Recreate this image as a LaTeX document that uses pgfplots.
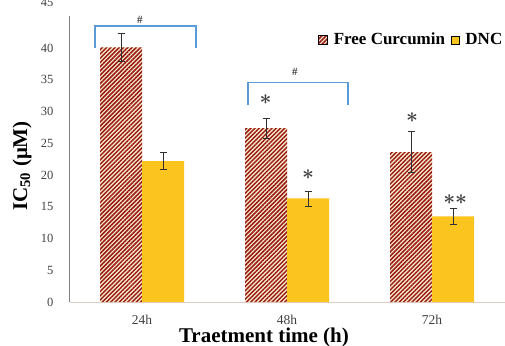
\documentclass[border=0pt]{standalone}
\usepackage{fontspec}
\setmainfont{Liberation Serif}
\usepackage{pgfplots}
\pgfplotsset{compat=1.18}
\usetikzlibrary{patterns.meta}
\definecolor{curred}{HTML}{951B1B}
\definecolor{curbg}{HTML}{FDEBC6}
\definecolor{dncy}{HTML}{FCC21A}
\definecolor{dncdot}{HTML}{FFDB5E}
\definecolor{brk}{HTML}{5B9BD5}
\definecolor{txt}{HTML}{404040}
\definecolor{errc}{HTML}{303030}
\begin{document}
\begin{tikzpicture}
\begin{axis}[
  scale only axis, width=435pt, height=285.75pt,
  xmin=-0.5, xmax=2.5, ymin=0, ymax=45,
  ybar=0pt, bar width=42pt,
  axis lines=left, axis line style={-},
  x axis line style={draw=black!25!brown!30, line width=0.8pt},
  y axis line style={draw=black!50, line width=0.8pt},
  xtick={0,1,2}, xticklabels={24h,48h,72h},
  ytick={0,5,...,40}, extra y ticks={45},
  extra y tick style={yticklabel style={yshift=13.5pt}},
  major tick length=0pt,
  /pgf/number format/assume math mode=true,
  yticklabel style={font=\fontsize{12.5}{14}\selectfont, text=txt, anchor=east, inner sep=0pt, xshift=-16pt},
  xticklabel style={font=\fontsize{13.5}{15}\selectfont, text=txt, anchor=north, inner sep=0pt, yshift=-12.5pt},
  xlabel={Traetment time (h)},
  xlabel style={font=\fontsize{21}{24}\selectfont\bfseries, at={(axis description cs:0.447,-0.143)}, anchor=base},
  ylabel={IC\textsubscript{50} (μM)},
  ylabel style={font=\fontsize{21}{24}\selectfont\bfseries, at={(axis description cs:-0.109,0.476)}, anchor=center},
  clip=false,
  legend style={at={(rel axis cs:1.0,0.918)}, anchor=east, draw=none, fill=none, inner sep=0pt,
    font=\fontsize{17}{20}\selectfont\bfseries, legend columns=2,
    /tikz/every odd column/.append style={column sep=4pt},
    /tikz/every even column/.append style={column sep=4pt}},
  legend cell align=left,
]
% Free Curcumin: cream base, hatched layer
\addplot[fill=curbg, draw=none, bar shift=-21pt, forget plot] coordinates {(0,40.1) (1,27.4) (2,23.6)};
\addplot[draw=none, bar shift=-21pt, forget plot, pattern={Lines[angle=45,distance=3pt,line width=1.5pt]}, pattern color=curred] coordinates {(0,40.1) (1,27.4) (2,23.6)};
% DNC
\addplot[fill=dncy, draw=none, bar shift=21pt, forget plot] coordinates {(0,22.2) (1,16.3) (2,13.5)};
\addplot[draw=none, bar shift=21pt, forget plot, pattern={Dots[distance=2pt,radius=0.45pt]}, pattern color=dncdot] coordinates {(0,22.2) (1,16.3) (2,13.5)};
% error bars
\addplot[draw=none, fill=none, bar shift=-21pt, forget plot,
  error bars/.cd, y dir=both, y explicit,
  error bar style={draw=errc, line width=0.7pt},
  error mark options={rotate=90, mark size=3.5pt, draw=errc, line width=0.7pt}]
  coordinates {(0,40.1) +- (0,2.2) (1,27.4) +- (0,1.55) (2,23.6) +- (0,3.2)};
\addplot[draw=none, fill=none, bar shift=21pt, forget plot,
  error bars/.cd, y dir=both, y explicit,
  error bar style={draw=errc, line width=0.7pt},
  error mark options={rotate=90, mark size=3.5pt, draw=errc, line width=0.7pt}]
  coordinates {(0,22.2) +- (0,1.3) (1,16.3) +- (0,1.2) (2,13.5) +- (0,1.25)};
% legend
\addlegendimage{legend image code/.code={
  \fill[curbg] (0pt,-4.5pt) rectangle (9pt,4pt);
  \fill[pattern={Lines[angle=45,distance=3pt,line width=1.5pt]}, pattern color=curred] (0pt,-4.5pt) rectangle (9pt,4pt);}}
\addlegendentry{Free Curcumin}
\addlegendimage{legend image code/.code={
  \fill[dncy] (0pt,-4.5pt) rectangle (8pt,3.5pt);
  \fill[pattern={Dots[distance=2pt,radius=0.45pt]}, pattern color=dncdot] (0pt,-4.5pt) rectangle (8pt,3.5pt);}}
\addlegendentry{DNC}
% significance brackets
\draw[brk, line width=1.5pt] (axis cs:-0.324,40.0) -- (axis cs:-0.324,43.5) -- (axis cs:0.372,43.5) -- (axis cs:0.372,40.0);
\node[font=\fontsize{11}{12}\selectfont\bfseries, text=txt] at (axis cs:-0.014,44.4) {\#};
\draw[brk, line width=1.5pt] (axis cs:0.731,31.0) -- (axis cs:0.731,34.6) -- (axis cs:1.421,34.6) -- (axis cs:1.421,31.0);
\node[font=\fontsize{11}{12}\selectfont\bfseries, text=txt] at (axis cs:1.055,36.2) {\#};
% asterisks
\node[font=\fontsize{21}{22}\selectfont\boldmath, text=txt] at (axis cs:0.852,31.8) {$\ast$};
\node[font=\fontsize{21}{22}\selectfont\boldmath, text=txt] at (axis cs:1.145,20.0) {$\ast$};
\node[font=\fontsize{21}{22}\selectfont\boldmath, text=txt] at (axis cs:1.862,29.0) {$\ast$};
\node[font=\fontsize{21}{22}\selectfont\boldmath, text=txt] at (axis cs:2.16,16.2) {$\mathord{\ast}\mathord{\ast}$};
\end{axis}
\pgfresetboundingbox
\useasboundingbox (-69.5pt,-43pt) rectangle (435.5pt,302pt);
\end{tikzpicture}
\end{document}
